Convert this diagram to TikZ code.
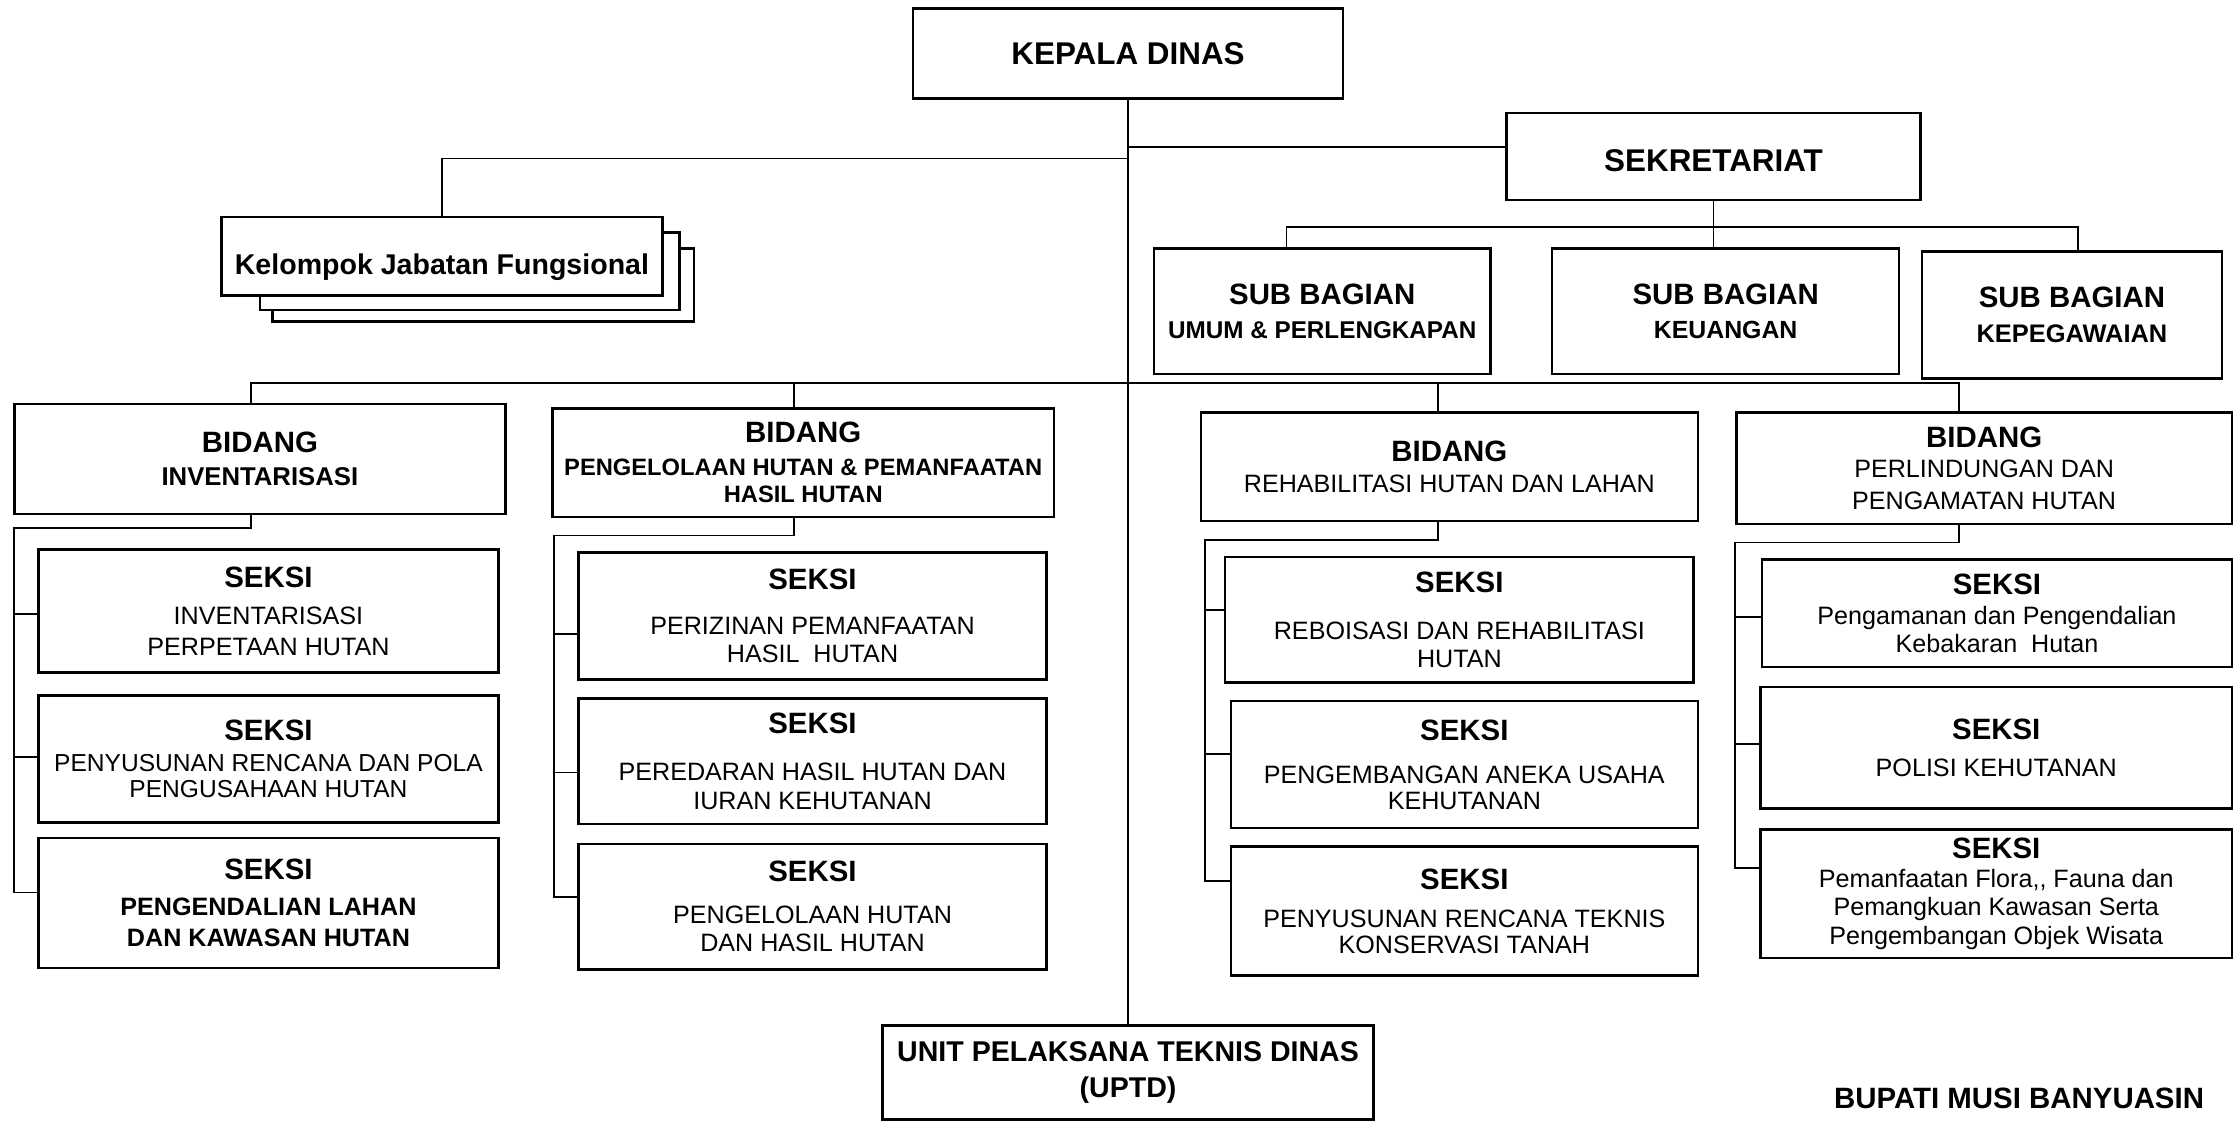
\documentclass[tikz,border=0pt]{standalone}
\usepackage{fontspec}
\setmainfont{Liberation Sans}
\newcommand\ttl[1]{{\fontsize{10.3}{10}\selectfont\bfseries #1}}
\begin{document}
\begin{tikzpicture}[x=0.5pt,y=-0.5pt,
  box/.style={draw, line width=0.9pt, fill=white, align=center, inner sep=1pt,
    font=\fontsize{8.8}{10}\selectfont},
  link/.style={line width=0.6pt}]
\fill[white] (0,0) rectangle (1568,786);
\useasboundingbox (0,0) rectangle (1568,786);

% top
\node[box, minimum width=150.5pt, minimum height=31.5pt] (kd) at (790,37.5)
  {\fontsize{11}{11}\selectfont\bfseries KEPALA DINAS};
\node[box, minimum width=145pt, minimum height=30.5pt, text height=10.9pt, text depth=0pt] (sek) at (1200,109.5)
  {\fontsize{11}{11}\selectfont\bfseries SEKRETARIAT};
\node[box, minimum width=147.5pt, minimum height=25.5pt] (kjfb2) at (338.5,199.5) {};
\node[box, minimum width=147pt, minimum height=27pt] (kjfb1) at (329,190) {};
\node[box, minimum width=154.5pt, minimum height=27.5pt, text height=13pt, text depth=0pt] (kjf) at (309.5,179.5)
  {\fontsize{10}{11}\selectfont\bfseries Kelompok Jabatan Fungsional};

% sub bagian
\node[box, minimum width=118pt, minimum height=44pt, font=\fontsize{8.5}{10}\selectfont\bfseries] (sb1) at (926,218)
  {\ttl{SUB BAGIAN}\\[2pt] UMUM \& PERLENGKAPAN};
\node[box, minimum width=121.5pt, minimum height=44pt, font=\fontsize{8.7}{10}\selectfont\bfseries] (sb2) at (1208.5,218)
  {\ttl{SUB BAGIAN}\\[2pt] KEUANGAN};
\node[box, minimum width=105pt, minimum height=44.5pt, font=\fontsize{8.9}{10}\selectfont\bfseries] (sb3) at (1451,220.5)
  {\ttl{SUB BAGIAN}\\[2pt] KEPEGAWAIAN};

% bidang
\node[box, minimum width=172pt, minimum height=38.5pt, font=\fontsize{9}{10}\selectfont\bfseries] (b1) at (182,321.5)
  {\ttl{BIDANG}\\[1.5pt] INVENTARISASI};
\node[box, minimum width=175.5pt, minimum height=38pt, font=\fontsize{8.3}{9.5}\selectfont\bfseries] (b2) at (562.5,324)
  {\ttl{BIDANG}\\[2pt] PENGELOLAAN HUTAN \& PEMANFAATAN\\ HASIL HUTAN};
\node[box, minimum width=174pt, minimum height=38pt] (b3) at (1015,327)
  {\ttl{BIDANG}\\[1pt] REHABILITASI HUTAN DAN LAHAN};
\node[box, minimum width=173.5pt, minimum height=39pt, font=\fontsize{8.8}{11}\selectfont] (b4) at (1389.5,328)
  {\ttl{BIDANG}\\[-0.5pt] PERLINDUNGAN DAN\\ PENGAMATAN HUTAN};

% seksi column 1
\node[box, minimum width=161pt, minimum height=43pt, font=\fontsize{8.8}{11}\selectfont] (s11) at (188,428)
  {\ttl{SEKSI}\\[2pt] INVENTARISASI\\ PERPETAAN HUTAN};
\node[box, minimum width=161pt, minimum height=44.5pt, font=\fontsize{8.6}{9}\selectfont] (s12) at (188,531.5)
  {\ttl{SEKSI}\\[2pt] PENYUSUNAN RENCANA DAN POLA\\ PENGUSAHAAN HUTAN};
\node[box, minimum width=161pt, minimum height=45.5pt, font=\fontsize{8.8}{11}\selectfont\bfseries] (s13) at (188,632.5)
  {\ttl{SEKSI}\\[1.5pt] PENGENDALIAN LAHAN\\ DAN KAWASAN HUTAN};

% seksi column 2
\node[box, minimum width=164pt, minimum height=44.5pt] (s21) at (569,431.5)
  {\ttl{SEKSI}\\[5.5pt] PERIZINAN PEMANFAATAN\\ HASIL\ \ HUTAN};
\node[box, minimum width=164pt, minimum height=44pt] (s22) at (569,533)
  {\ttl{SEKSI}\\[6.5pt] PEREDARAN HASIL HUTAN DAN\\ IURAN KEHUTANAN};
\node[box, minimum width=164pt, minimum height=44pt] (s23) at (569,635)
  {\ttl{SEKSI}\\[4.5pt] PENGELOLAAN HUTAN\\ DAN HASIL HUTAN};

% seksi column 3
\node[box, minimum width=164pt, minimum height=44pt] (s31) at (1022,434)
  {\ttl{SEKSI}\\[6.5pt] REBOISASI DAN REHABILITASI\\ HUTAN};
\node[box, minimum width=163.5pt, minimum height=44.5pt, font=\fontsize{8.8}{9}\selectfont] (s32) at (1025.5,535.5)
  {\ttl{SEKSI}\\[6pt] PENGEMBANGAN ANEKA USAHA\\ KEHUTANAN};
\node[box, minimum width=163.5pt, minimum height=45pt, font=\fontsize{8.8}{9}\selectfont] (s33) at (1025.5,638)
  {\ttl{SEKSI}\\[4.5pt] PENYUSUNAN RENCANA TEKNIS\\ KONSERVASI TANAH};

% seksi column 4
\node[box, minimum width=164.5pt, minimum height=37.5pt, font=\fontsize{8.8}{9.5}\selectfont] (s41) at (1398.5,429.5)
  {\ttl{SEKSI}\\[1pt] Pengamanan dan Pengendalian\\ Kebakaran\ \ Hutan};
\node[box, minimum width=165pt, minimum height=42.5pt] (s42) at (1398,523.5)
  {\ttl{SEKSI}\\[3pt] POLISI KEHUTANAN};
\node[box, minimum width=165pt, minimum height=45pt] (s43) at (1398,626)
  {\ttl{SEKSI}\\[0pt] Pemanfaatan Flora{,}{,} Fauna dan\\ Pemangkuan Kawasan Serta\\ Pengembangan Objek Wisata};

% uptd and signature
\node[box, minimum width=172pt, minimum height=33pt, font=\fontsize{10}{10}\selectfont\bfseries] (uptd) at (790,751)
  {UNIT PELAKSANA TEKNIS DINAS\\[2.5pt] (UPTD)};
\node[font=\fontsize{10.3}{11}\selectfont\bfseries] (bupati) at (1414,769) {BUPATI MUSI BANYUASIN};

% spine
\draw[link] (kd.south) -- (kd.south |- uptd.north);
\coordinate (jk) at (790,111);
\draw[link] (jk) -| (kjf.north);
\coordinate (js) at (790,103);
\draw[link] (js) -- (js -| sek.west);

% sekretariat to sub bagian
\coordinate (sbL) at (901,159);
\coordinate (sbR) at (1455,159);
\draw[link] (sek.south) -- (sek.south |- sb2.north);
\draw[link] (sbL |- sb1.north) -- (sbL) -- (sbR) -- (sbR |- sb3.north);

% bidang bus
\coordinate (bL) at (176,268);
\coordinate (bR) at (1372,268);
\coordinate (b2d) at (556,268);
\coordinate (b3d) at (1007,268);
\draw[link] (bL |- b1.north) -- (bL) -- (bR) -- (bR |- b4.north);
\draw[link] (b2d) -- (b2d |- b2.north);
\draw[link] (b3d) -- (b3d |- b3.north);

% column 1
\coordinate (c1a) at (176,370);
\coordinate (c1b) at (10,370);
\coordinate (k11) at (10,430);
\coordinate (k12) at (10,530);
\coordinate (k13) at (10,625);
\draw[link] (c1a |- b1.south) -- (c1a) -- (c1b) -- (k13) -- (k13 -| s13.west);
\draw[link] (k11) -- (k11 -| s11.west);
\draw[link] (k12) -- (k12 -| s12.west);

% column 2
\coordinate (c2a) at (556,375);
\coordinate (c2b) at (388,375);
\coordinate (k21) at (388,444);
\coordinate (k22) at (388,541);
\coordinate (k23) at (388,628);
\draw[link] (c2a |- b2.south) -- (c2a) -- (c2b) -- (k23) -- (k23 -| s23.west);
\draw[link] (k21) -- (k21 -| s21.west);
\draw[link] (k22) -- (k22 -| s22.west);

% column 3
\coordinate (c3a) at (1007,378);
\coordinate (c3b) at (844,378);
\coordinate (k31) at (844,427);
\coordinate (k32) at (844,528);
\coordinate (k33) at (844,617);
\draw[link] (c3a |- b3.south) -- (c3a) -- (c3b) -- (k33) -- (k33 -| s33.west);
\draw[link] (k31) -- (k31 -| s31.west);
\draw[link] (k32) -- (k32 -| s32.west);

% column 4
\coordinate (c4a) at (1372,380);
\coordinate (c4b) at (1215,380);
\coordinate (k41) at (1215,432);
\coordinate (k42) at (1215,521);
\coordinate (k43) at (1215,608);
\draw[link] (c4a |- b4.south) -- (c4a) -- (c4b) -- (k43) -- (k43 -| s43.west);
\draw[link] (k41) -- (k41 -| s41.west);
\draw[link] (k42) -- (k42 -| s42.west);
\end{tikzpicture}
\end{document}
